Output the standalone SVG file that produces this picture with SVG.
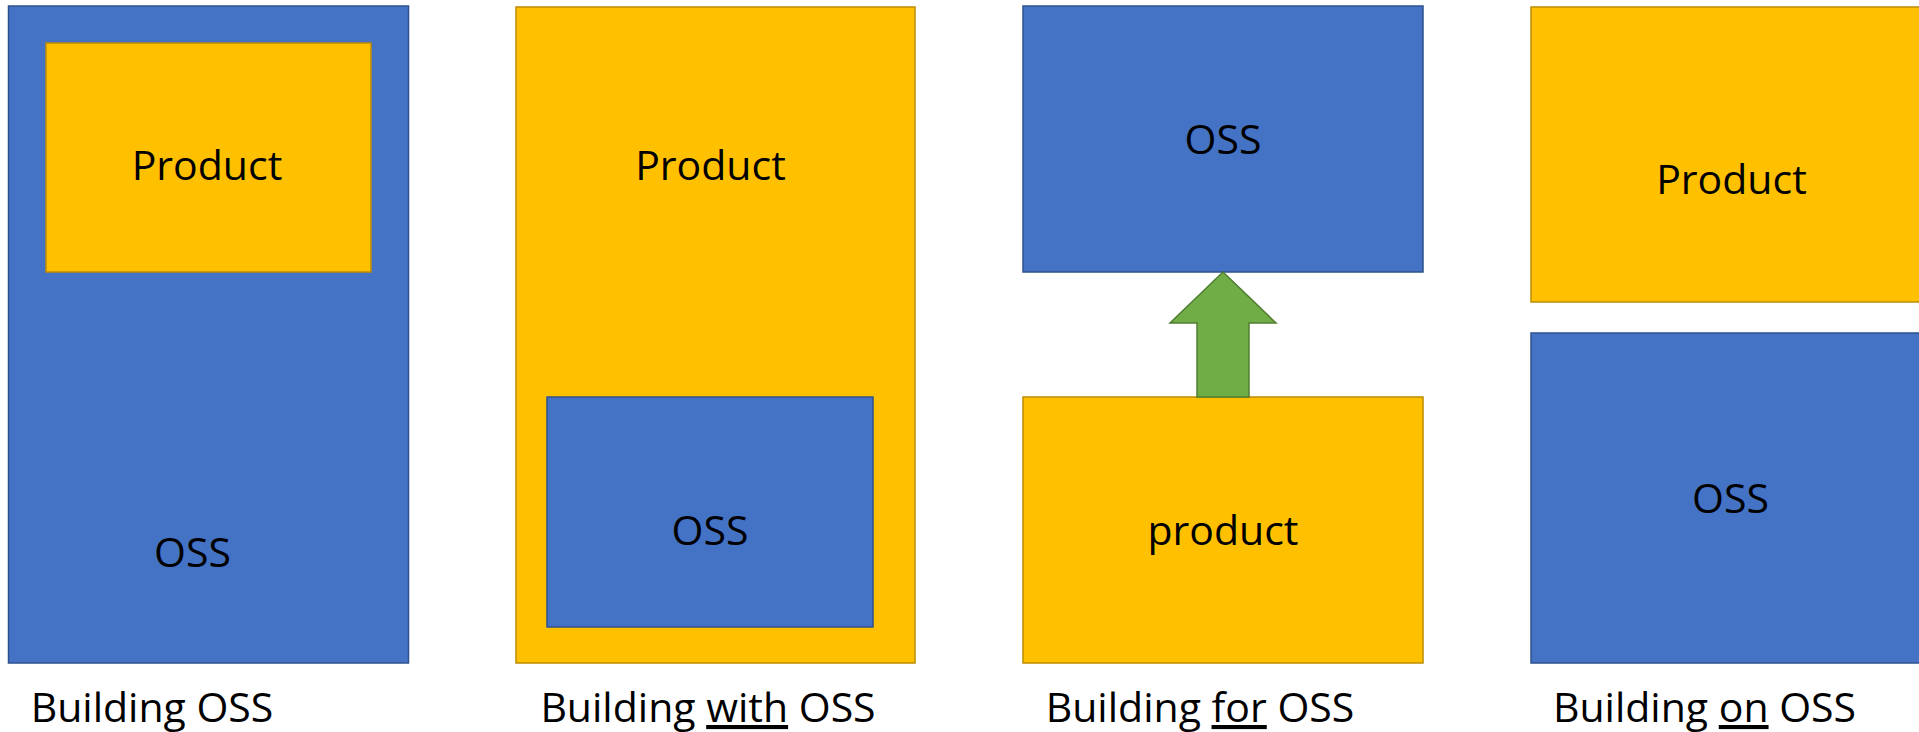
<svg xmlns="http://www.w3.org/2000/svg" width="1919" height="732" viewBox="0 0 1919 732">
<style>
  .blue{fill:#4472C4;stroke:#2F528F;stroke-width:1.5}
  .yel{fill:#FFC000;stroke:#BC8C00;stroke-width:1.5}
  .arrow{fill:#70AD47;stroke:#507E32;stroke-width:1.5}
  text{font-family:"Open Sans","Noto Sans","Liberation Sans",sans-serif;font-size:41px;fill:#000;text-anchor:middle}
  .u{text-decoration:underline}
</style>
<rect width="1919" height="732" fill="#fff"/>
<g id="panel1">
  <g id="p1-oss"><rect class="blue" x="8.5" y="6" width="400" height="657"/><text x="192.5" y="567">OSS</text></g>
  <g id="p1-product"><rect class="yel" x="46" y="43" width="325" height="229"/><text x="207" y="180">Product</text></g>
  <text id="p1-label" x="152" y="722">Building OSS</text>
</g>
<g id="panel2">
  <g id="p2-product"><rect class="yel" x="516" y="7" width="399" height="656"/><text x="710.5" y="180">Product</text></g>
  <g id="p2-oss"><rect class="blue" x="547" y="397" width="326" height="230"/><text x="710" y="545">OSS</text></g>
  <text id="p2-label" x="708" y="722">Building <tspan class="u">with</tspan> OSS</text>
</g>
<g id="panel3">
  <g id="p3-oss"><rect class="blue" x="1023" y="6" width="400" height="266"/><text x="1223" y="154">OSS</text></g>
  <g id="p3-product"><rect class="yel" x="1023" y="397" width="400" height="266"/><text x="1223" y="545">product</text></g>
  <text id="p3-label" x="1200" y="722">Building <tspan class="u">for</tspan> OSS</text>
</g>
<g id="connectors">
  <polygon class="arrow" points="1223,272 1276,323 1249,323 1249,397 1197,397 1197,323 1170,323"/>
</g>
<g id="panel4">
  <g id="p4-product"><rect class="yel" x="1531" y="7" width="400" height="295"/><text x="1731.5" y="194">Product</text></g>
  <g id="p4-oss"><rect class="blue" x="1531" y="333" width="400" height="330"/><text x="1730.5" y="513">OSS</text></g>
  <text id="p4-label" x="1704.5" y="722">Building <tspan class="u">on</tspan> OSS</text>
</g>
</svg>
